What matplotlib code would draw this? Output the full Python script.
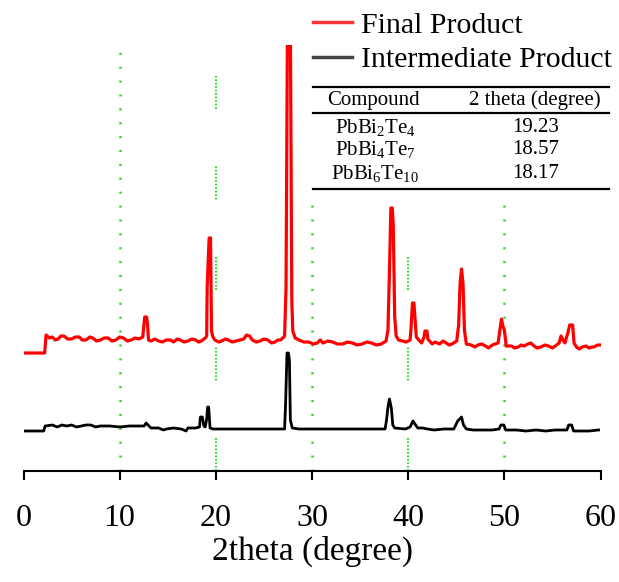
import matplotlib
matplotlib.use("Agg")
import matplotlib.pyplot as plt
from matplotlib.lines import Line2D

plt.rcParams["font.family"] = ["Liberation Serif", "DejaVu Serif"]
plt.rcParams["mathtext.fontset"] = "custom"
plt.rcParams["mathtext.rm"] = "Liberation Serif"
plt.rcParams["mathtext.it"] = "Liberation Serif:italic"
plt.rcParams["lines.scale_dashes"] = False

# Final product pattern (2theta, intensity in a.u., already stacked above the intermediate one)
final_2theta = [
    0.0, 2.2, 2.35, 2.7, 3.0, 3.3, 3.6, 3.9, 4.2, 4.6, 5.0, 5.4, 5.8, 6.1, 6.5, 6.9, 7.2,
    7.6, 8.0, 8.4, 8.8, 9.2, 9.6, 10.0, 10.4, 10.8, 11.2, 11.6, 12.0, 12.4,
    12.6, 12.8, 12.9, 13.0, 13.25, 13.65, 14.05, 14.45, 14.85, 15.3, 15.6, 16.0, 16.3, 16.7,
    17.1, 17.5, 17.9, 18.2, 18.5, 18.9,
    19.05, 19.1, 19.3, 19.45, 19.55, 19.7, 19.9, 20.3, 20.6, 21.0, 21.3, 21.7, 22.1, 22.5,
    22.9, 23.2, 23.5, 23.8, 24.2, 24.6, 25.0, 25.4, 25.8, 26.15, 26.45, 26.75, 27.15, 27.3,
    27.45, 27.75, 27.9, 28.0, 28.25, 28.65, 29.15, 29.65, 30.15, 30.55, 30.85, 31.15, 31.65, 32.15,
    32.65, 33.2, 33.7, 34.2, 34.7, 35.2, 35.7, 36.2, 36.7, 37.2, 37.7, 37.9, 38.05, 38.2,
    38.35, 38.45, 38.6, 38.75, 39.0, 39.4, 39.8, 40.2, 40.3, 40.45, 40.6, 40.7, 40.85,
    41.1, 41.4, 41.65, 41.75, 41.95, 42.05, 42.5, 42.8, 43.25, 43.65, 43.95, 44.25, 44.55, 45.05,
    45.25, 45.4, 45.55, 45.7, 45.85, 46.05, 46.55, 46.95, 47.25, 47.65, 48.05, 48.35, 48.75, 49.05,
    49.35, 49.5, 49.7, 49.85, 50.0, 50.2, 50.75, 51.05, 51.45, 51.75, 52.05, 52.45, 52.75, 53.1,
    53.4, 53.8, 54.2, 54.6, 55.0, 55.3, 55.7, 55.9, 56.1, 56.3, 56.6, 56.8, 57.1, 57.25,
    57.5, 57.8, 58.1, 58.5, 58.8, 59.1, 59.3, 59.7, 59.9,
]
final_counts = [
    118, 118, 136, 133, 134, 131, 132, 135, 135, 132, 132, 134, 134, 131, 131, 134, 133,
    130, 131, 133, 133, 130, 131, 134, 133, 130, 131, 133, 132, 134,
    154, 154, 146, 131, 130, 132, 130, 129, 131, 131, 129, 132, 131, 129,
    130, 132, 131, 129, 130, 133,
    135, 184, 233, 233, 140, 134, 131, 129, 130, 132, 131, 129, 130, 131,
    132, 136, 135, 131, 129, 130, 132, 131, 128, 129, 131, 131, 135, 184,
    450, 450, 171, 140, 133, 131, 129, 129, 127, 128, 131, 128, 130, 129,
    127, 127, 129, 128, 126, 127, 129, 128, 126, 127, 130, 141, 198, 263,
    263, 246, 154, 135, 131, 130, 129, 131, 143, 168, 168, 154, 134,
    131, 128, 134, 140, 140, 132, 127, 129, 127, 130, 128, 126, 127, 130,
    146, 188, 202, 188, 141, 127, 126, 124, 126, 127, 125, 123, 126, 127,
    128, 138, 152, 145, 141, 125, 125, 123, 124, 126, 125, 127, 128, 125,
    123, 124, 126, 125, 123, 125, 128, 135, 131, 128, 138, 146, 146, 128,
    124, 122, 124, 125, 123, 124, 124, 126, 126,
]

# Intermediate product pattern
inter_2theta = [
    0.0, 2.1, 2.25, 3.0, 3.5, 4.0, 4.5, 5.0, 5.5, 6.0, 6.5, 7.0, 7.5, 8.0, 9.0, 10.0, 11.0,
    12.0, 12.55, 12.75, 12.95, 13.25, 14.05, 14.55, 14.85, 15.6, 16.4, 16.9, 17.1, 17.9, 18.3,
    18.4, 18.6, 18.75, 18.9, 19.05, 19.15, 19.25, 19.4, 19.7, 20.6, 21.6, 22.6, 23.6, 24.6,
    25.6, 26.65, 27.15, 27.25, 27.4, 27.55, 27.65, 27.75, 27.95, 28.65, 30.15, 32.15, 34.2, 36.2,
    37.6, 37.75, 37.9, 38.05, 38.25, 38.4, 38.6, 39.7, 40.2, 40.5, 40.7, 41.0, 41.5, 42.0,
    42.7, 43.7, 44.75, 45.15, 45.55, 45.75, 46.05, 46.75, 47.75, 48.75, 49.45, 49.65, 49.95, 50.15,
    51.25, 52.25, 53.3, 54.3, 55.3, 56.5, 56.7, 57.0, 57.2, 57.8, 58.8, 59.8,
]
inter_counts = [
    40, 40, 45, 46, 44, 46, 45, 46, 44, 45, 46, 46, 44, 45, 45, 44, 45,
    45, 45, 48, 46, 43, 43, 41, 42, 43, 42, 40, 43, 43, 44,
    54, 54, 45, 44, 52, 64, 64, 43, 42, 42, 42, 42, 42, 42,
    42, 42, 42, 66, 118, 118, 111, 51, 43, 42, 42, 42, 42, 42,
    42, 51, 64, 72, 63, 46, 43, 42, 44, 50, 47, 43, 43, 42,
    41, 42, 42, 50, 54, 46, 42, 41, 41, 41, 42, 46, 46, 41,
    41, 40, 41, 40, 41, 41, 46, 46, 40, 40, 40, 41,
]

sparse_guides = [10, 30, 50]
dense_guides = [20, 40]
x_ticks = [0, 10, 20, 30, 40, 50, 60]

compounds = [r"PbBi$_2$Te$_4$", r"PbBi$_4$Te$_7$", r"PbBi$_6$Te$_{10}$"]
peak_2theta = ["19.23", "18.57", "18.17"]

W, H = 619, 582
fig = plt.figure(figsize=(W / 100, H / 100), dpi=100)
ax = fig.add_axes([23.5 / W, 1 - 471 / H, 577 / W, 426 / H])

green = "#22e022"
dot_pattern = (0, (1.5, 8.5))
dense_pattern = (0, [1.2, 1.3] * 9 + [1.2, 41.5])
for gx in sparse_guides:
    ax.axvline(gx, color=green, lw=1.8, linestyle=dot_pattern, zorder=1)
for gx in dense_guides:
    ax.axvline(gx, color=green, lw=1.5, linestyle=dense_pattern, zorder=1)

ax.plot(final_2theta, final_counts, color="#ff0000", lw=2.3, zorder=3)
ax.plot(inter_2theta, inter_counts, color="black", lw=2.0, zorder=3)

ax.set_xlim(0, 60)
ax.set_ylim(0, 426)
ax.set_xticks(x_ticks)
ax.set_yticks([])
for side in ("left", "right", "top"):
    ax.spines[side].set_visible(False)
ax.spines["bottom"].set_linewidth(1.5)
ax.tick_params(axis="x", direction="out", length=6.5, width=1.5, labelsize=23, pad=17)
ax.set_xlabel("2theta (degree)", fontsize=24, labelpad=2)

# legend and lookup table sit on a white panel in the upper right
tab = fig.add_axes([305 / W, 1 - 203 / H, 314 / W, 203 / H])
tab.set_facecolor("white")
tab.set_xlim(305, 619)
tab.set_ylim(203, 0)
tab.set_xticks([])
tab.set_yticks([])
for s in tab.spines.values():
    s.set_visible(False)

tab.legend(
    [Line2D([], [], color="#ff3333", lw=2.5), Line2D([], [], color="#444444", lw=2.5)],
    ["Final Product", "Intermediate Product"],
    loc="upper left", bbox_to_anchor=(313 / W, 1 - 12 / H), bbox_transform=fig.transFigure,
    frameon=False, fontsize=21.5, handlelength=1.3, handletextpad=0.3,
    labelspacing=0.25, borderpad=0, borderaxespad=0,
)

for ry in (87, 113, 189):
    tab.plot([313, 609], [ry, ry], color="black", lw=1.6)
tab.text(373, 100, "Compound", ha="center", va="center", fontsize=15)
tab.text(535, 100, "2 theta (degree)", ha="center", va="center", fontsize=15)
for i, (name, val) in enumerate(zip(compounds, peak_2theta)):
    ry = 127 + 23 * i
    tab.text(375, ry, name, ha="center", va="center", fontsize=15)
    tab.text(536, ry, val, ha="center", va="center", fontsize=15)

fig.savefig("out.png", dpi=100)
